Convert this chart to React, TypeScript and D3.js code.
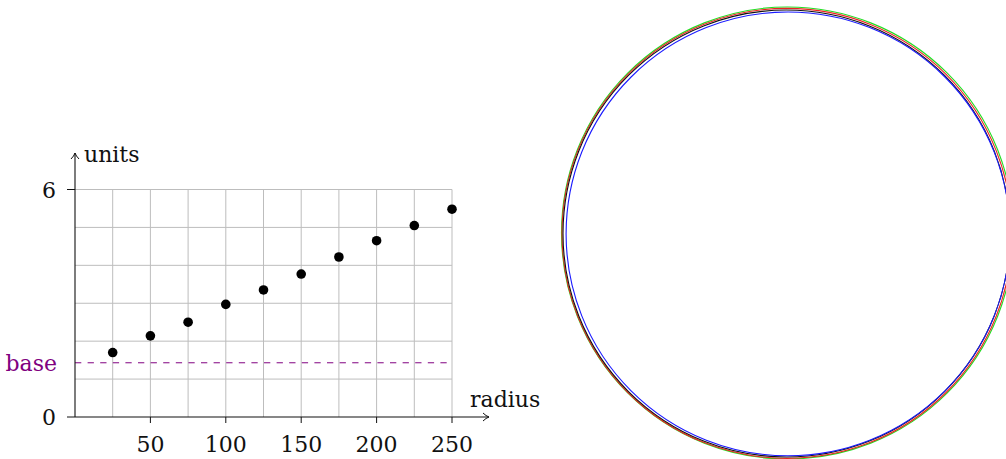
import React, { useEffect, useRef } from 'react';
import * as d3 from 'd3';

// left panel: measured points
const radii = [25, 50, 75, 100, 125, 150, 175, 200, 225, 250];
const units = [1.7, 2.14, 2.5, 2.97, 3.35, 3.77, 4.22, 4.65, 5.05, 5.48];
const xTicks = [50, 100, 150, 200, 250];
const yTicks = [0, 6];
const baseValue = 1.43;

// right panel: overlapping circles (page units)
const circleNames = ['green', 'red', 'black', 'blue'];
const circleCx = [787.5, 787, 786.5, 788];
const circleCy = [233, 233.4, 233.5, 233.9];
const circleR = [226, 225, 223.5, 221.9];
const circleColors = ['#22dd22', '#ee2222', '#111111', '#1a1aff'];

const W = 1006;
const H = 459;
const FONT = '"DejaVu Serif", serif';
const FS = 22;

const App = () => {
  const ref = useRef<SVGSVGElement>(null);

  useEffect(() => {
    const svg = d3.select(ref.current);
    svg.selectAll('*').remove();

    const x = d3.scaleLinear().domain([0, 250]).range([75, 452]);
    const y = d3.scaleLinear().domain([0, 6]).range([417, 189.5]);

    const g = svg.append('g');

    // grid
    const gridX = d3.range(25, 251, 25);
    const gridY = d3.range(1, 7, 1);
    g.selectAll('.gx')
      .data(gridX)
      .enter()
      .append('line')
      .attr('x1', d => x(d))
      .attr('x2', d => x(d))
      .attr('y1', y(0))
      .attr('y2', y(6))
      .attr('stroke', '#bdbdbd')
      .attr('stroke-width', 1);
    g.selectAll('.gy')
      .data(gridY)
      .enter()
      .append('line')
      .attr('x1', x(0))
      .attr('x2', x(250))
      .attr('y1', d => y(d))
      .attr('y2', d => y(d))
      .attr('stroke', '#bdbdbd')
      .attr('stroke-width', 1);

    // base line
    g.append('line')
      .attr('x1', x(0))
      .attr('x2', x(250))
      .attr('y1', y(baseValue))
      .attr('y2', y(baseValue))
      .attr('stroke', '#800080')
      .attr('stroke-width', 1)
      .attr('stroke-dasharray', '6.3,6.3');
    g.append('text')
      .attr('x', 57)
      .attr('y', y(baseValue) + 8)
      .attr('text-anchor', 'end')
      .attr('fill', '#800080')
      .attr('font-family', FONT)
      .attr('font-size', FS)
      .text('base');

    // axes with arrows
    const axisColor = '#111';
    g.append('line')
      .attr('x1', x(0))
      .attr('x2', 489)
      .attr('y1', y(0))
      .attr('y2', y(0))
      .attr('stroke', axisColor)
      .attr('stroke-width', 1.1);
    g.append('path')
      .attr('d', `M${483},${y(0) - 4} Q${486},${y(0) - 1} ${489},${y(0)} Q${486},${y(0) + 1} ${483},${y(0) + 4}`)
      .attr('fill', 'none')
      .attr('stroke', axisColor)
      .attr('stroke-width', 1);
    g.append('line')
      .attr('x1', x(0))
      .attr('x2', x(0))
      .attr('y1', y(0))
      .attr('y2', 153)
      .attr('stroke', axisColor)
      .attr('stroke-width', 1.1);
    g.append('path')
      .attr('d', `M${x(0) - 4},${159} Q${x(0) - 1},${156} ${x(0)},${153} Q${x(0) + 1},${156} ${x(0) + 4},${159}`)
      .attr('fill', 'none')
      .attr('stroke', axisColor)
      .attr('stroke-width', 1);

    // ticks
    g.selectAll('.xt')
      .data(xTicks)
      .enter()
      .append('line')
      .attr('x1', d => x(d))
      .attr('x2', d => x(d))
      .attr('y1', y(0))
      .attr('y2', y(0) + 6)
      .attr('stroke', axisColor)
      .attr('stroke-width', 1);
    g.selectAll('.xl')
      .data(xTicks)
      .enter()
      .append('text')
      .attr('x', d => x(d))
      .attr('y', 451.5)
      .attr('text-anchor', 'middle')
      .attr('font-family', FONT)
      .attr('font-size', FS)
      .attr('fill', '#111')
      .text(d => d);
    g.selectAll('.yt')
      .data(yTicks)
      .enter()
      .append('line')
      .attr('x1', x(0) - 8)
      .attr('x2', x(0))
      .attr('y1', d => y(d))
      .attr('y2', d => y(d))
      .attr('stroke', axisColor)
      .attr('stroke-width', 1);
    g.selectAll('.yl')
      .data(yTicks)
      .enter()
      .append('text')
      .attr('x', 56)
      .attr('y', d => y(d) + 8)
      .attr('text-anchor', 'end')
      .attr('font-family', FONT)
      .attr('font-size', FS)
      .attr('fill', '#111')
      .text(d => d);

    g.append('text')
      .attr('x', 84)
      .attr('y', 162)
      .attr('font-family', FONT)
      .attr('font-size', FS)
      .attr('fill', '#111')
      .text('units');
    g.append('text')
      .attr('x', 470)
      .attr('y', 406.5)
      .attr('font-family', FONT)
      .attr('font-size', FS)
      .attr('fill', '#111')
      .text('radius');

    // points
    g.selectAll('.pt')
      .data(radii)
      .enter()
      .append('circle')
      .attr('cx', d => x(d))
      .attr('cy', (d, i) => y(units[i]))
      .attr('r', 4.8)
      .attr('fill', '#000');

    // right panel circles
    const p = d3.scaleLinear().domain([0, W]).range([0, W]);
    svg
      .append('g')
      .selectAll('circle')
      .data(circleNames)
      .enter()
      .append('circle')
      .attr('cx', (d, i) => p(circleCx[i]))
      .attr('cy', (d, i) => p(circleCy[i]))
      .attr('r', (d, i) => p(circleR[i]) - p(0))
      .attr('fill', 'none')
      .attr('stroke', (d, i) => circleColors[i])
      .attr('stroke-width', 1.1);
  }, []);

  return (
    <svg
      ref={ref}
      width={W}
      height={H}
      style={{ position: 'absolute', left: 0, top: 0, background: '#fff' }}
    />
  );
};

export default App;
